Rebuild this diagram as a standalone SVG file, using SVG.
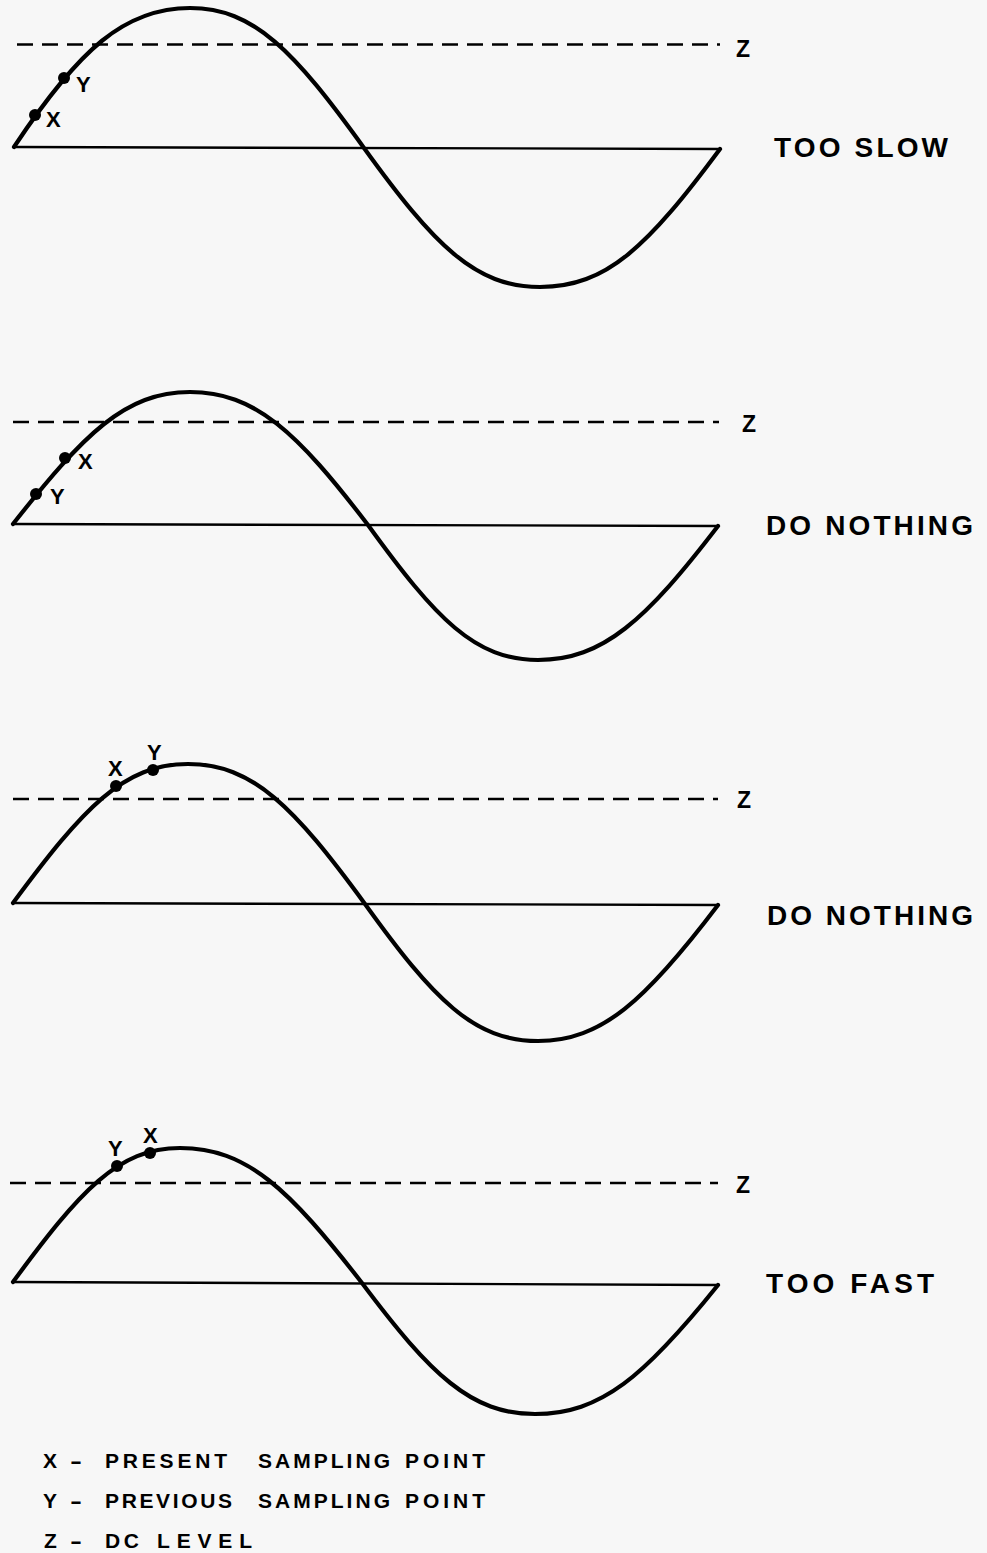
<svg xmlns="http://www.w3.org/2000/svg" width="987" height="1553" viewBox="0 0 987 1553">
<style>
.bg{fill:#f7f7f7}
.wave{fill:none;stroke:#000;stroke-width:4.2;stroke-linecap:round;stroke-linejoin:round}
.axis{fill:none;stroke:#000;stroke-width:2.4;stroke-linecap:round}
.dc{fill:none;stroke:#000;stroke-width:2.4;stroke-dasharray:16 9}
.dot{fill:#000}
.t{font-family:"Liberation Sans",Arial,sans-serif;font-weight:bold;fill:#000}
.big{font-size:28px}
.z{font-size:23px}
.pt{font-size:22px}
.leg{font-size:21px}
</style>
<rect class="bg" x="0" y="0" width="987" height="1553"/>

<g id="panel-1">
  <line class="dc" x1="17" y1="44.5" x2="720" y2="44.5"/>
  <line class="axis" x1="14" y1="147" x2="720" y2="149"/>
  <path class="wave" d="M14,147 C79,49 125,8 190,8 C254,8 294,51 364,148 C434,245 475,287 540,287 C607,287 648,246 720,149"/>
  <circle class="dot" cx="35" cy="115" r="6"/>
  <circle class="dot" cx="64" cy="78" r="6"/>
  <text class="t pt" x="46" y="127">X</text>
  <text class="t pt" x="76" y="92">Y</text>
  <text class="t z" x="736" y="57">Z</text>
  <text class="t big" x="774" y="157" textLength="174" lengthAdjust="spacing">TOO SLOW</text>
</g>

<g id="panel-2">
  <line class="dc" x1="13" y1="422" x2="719" y2="422"/>
  <line class="axis" x1="13" y1="524" x2="718" y2="526"/>
  <path class="wave" d="M13,524 C84,434 125,392 190,392 C255,392 297,432 368,525 C436,619 475,660 538,660 C603,660 646,620 718,526"/>
  <circle class="dot" cx="65" cy="458" r="6"/>
  <circle class="dot" cx="36" cy="494" r="6"/>
  <text class="t pt" x="78" y="469">X</text>
  <text class="t pt" x="50" y="504">Y</text>
  <text class="t z" x="742" y="432">Z</text>
  <text class="t big" x="766" y="535" textLength="207" lengthAdjust="spacing">DO NOTHING</text>
</g>

<g id="panel-3">
  <line class="dc" x1="13" y1="799" x2="718" y2="799"/>
  <line class="axis" x1="13" y1="903" x2="718" y2="905"/>
  <path class="wave" d="M13,903 C83,808.5 123,764 188,764 C253,764 294,807 365,904 C434,1000 474,1041 538,1041 C602,1041 646,1000 718,905"/>
  <circle class="dot" cx="116" cy="786" r="6"/>
  <circle class="dot" cx="153" cy="770" r="6"/>
  <text class="t pt" x="108" y="776">X</text>
  <text class="t pt" x="147" y="760">Y</text>
  <text class="t z" x="737" y="808">Z</text>
  <text class="t big" x="767" y="925" textLength="206" lengthAdjust="spacing">DO NOTHING</text>
</g>

<g id="panel-4">
  <line class="dc" x1="10" y1="1183" x2="718" y2="1183"/>
  <line class="axis" x1="13" y1="1282" x2="718" y2="1285"/>
  <path class="wave" d="M13,1282 C80,1191 118,1148 180,1148 C247,1148 289,1189 362,1283 C431,1375 471,1414 535,1414 C601,1414 645,1376 718,1285"/>
  <circle class="dot" cx="117" cy="1166" r="6"/>
  <circle class="dot" cx="150" cy="1153" r="6"/>
  <text class="t pt" x="108" y="1156">Y</text>
  <text class="t pt" x="143" y="1143">X</text>
  <text class="t z" x="736" y="1193">Z</text>
  <text class="t big" x="766" y="1293" textLength="168" lengthAdjust="spacing">TOO FAST</text>
</g>

<g id="legend">
  <text class="t leg" y="1468"><tspan x="43">X</tspan> <tspan x="70" textLength="12" lengthAdjust="spacingAndGlyphs">-</tspan> <tspan x="105" textLength="122" lengthAdjust="spacing">PRESENT</tspan> <tspan x="258" textLength="132" lengthAdjust="spacing">SAMPLING</tspan> <tspan x="405" textLength="80" lengthAdjust="spacing">POINT</tspan></text>
  <text class="t leg" y="1508"><tspan x="43">Y</tspan> <tspan x="70" textLength="12" lengthAdjust="spacingAndGlyphs">-</tspan> <tspan x="105" textLength="127" lengthAdjust="spacing">PREVIOUS</tspan> <tspan x="258" textLength="132" lengthAdjust="spacing">SAMPLING</tspan> <tspan x="405" textLength="80" lengthAdjust="spacing">POINT</tspan></text>
  <text class="t leg" y="1548"><tspan x="44">Z</tspan> <tspan x="70" textLength="12" lengthAdjust="spacingAndGlyphs">-</tspan> <tspan x="105" textLength="34" lengthAdjust="spacing">DC</tspan> <tspan x="157" textLength="95" lengthAdjust="spacing">LEVEL</tspan></text>
</g>
</svg>
